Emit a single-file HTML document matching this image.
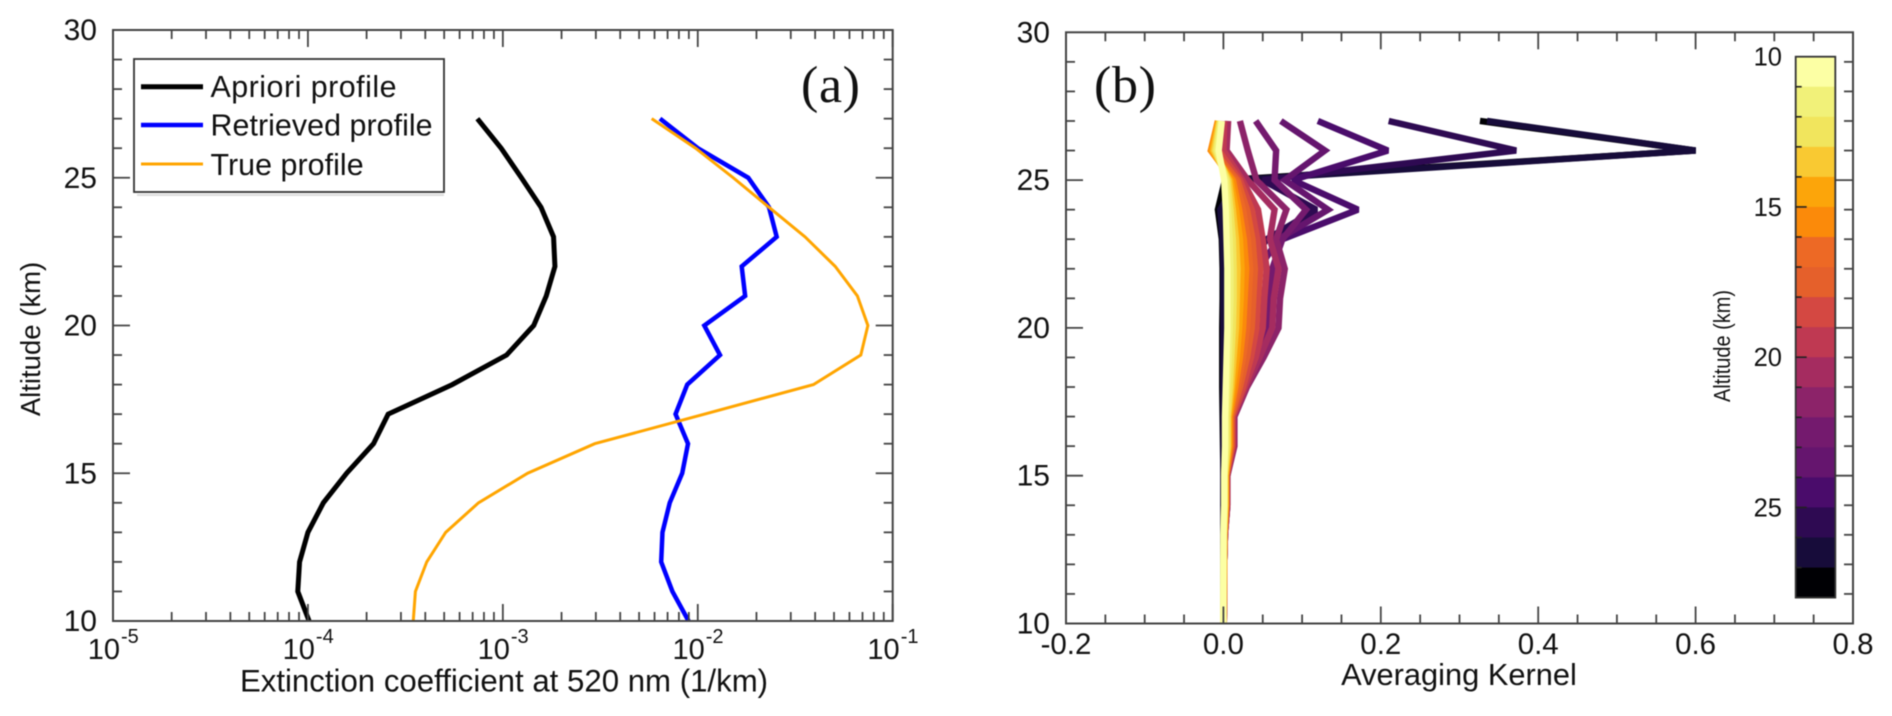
<!DOCTYPE html>
<html lang="en">
<head>
<meta charset="utf-8">
<title>Extinction profiles and averaging kernels</title>
<style>
html,body{margin:0;padding:0;background:#fff;width:1892px;height:716px;overflow:hidden}
svg{display:block;filter:blur(.4px)}
text{font-family:"Liberation Sans",sans-serif;fill:#111}
</style>
</head>
<body>
<svg id="fig" xmlns="http://www.w3.org/2000/svg" width="1892" height="716" viewBox="0 0 1892 716"></svg>
<script>
// Panel (a) data: altitude levels (km) and extinction coefficients (1/km)
const altitudes = [27,26,25,24,23,22,21,20,19,18,17,16,15,14,13,12,11,10];
const apriori = [7.40e-4,9.8e-4,1.245e-3,1.57e-3,1.82e-3,1.85e-3,1.67e-3,1.44e-3,1.045e-3,5.5e-4,2.58e-4,2.17e-4,1.58e-4,1.2e-4,1.0e-4,9.06e-5,8.87e-5,1.014e-4];
const retrieved = [6.4e-3,1.0e-2,1.815e-2,2.32e-2,2.54e-2,1.68e-2,1.75e-2,1.08e-2,1.3e-2,8.83e-3,7.69e-3,8.91e-3,8.32e-3,7.18e-3,6.59e-3,6.49e-3,7.41e-3,8.97e-3];
const trueProfile = [5.8e-3,9.75e-3,1.52e-2,2.32e-2,3.55e-2,5.07e-2,6.59e-2,7.46e-2,6.86e-2,3.92e-2,1.08e-2,2.96e-3,1.34e-3,7.5e-4,5.09e-4,4.07e-4,3.56e-4,3.47e-4];
const legendLabels = ["Apriori profile","Retrieved profile","True profile"];
const yTickLabels = [10,15,20,25,30];
const xExponents = [-5,-4,-3,-2,-1];
// Panel (b) data: averaging kernel per target altitude, values at altitudes[] levels
const kernel10 = [-.002,-.006,.001,.003,.004,.005,.005,.005,.004,.003,.002,.002,.001,.001,0,0,0,0];
const kernel11 = [-.003,-.008,.003,.006,.008,.009,.009,.008,.007,.005,.003,.003,.001,.001,.0005,0,0,0];
const kernel12 = [-.004,-.010,.005,.009,.012,.013,.013,.012,.010,.008,.005,.005,.002,.002,.0005,.0005,0,0];
const kernel13 = [-.005,-.012,.007,.012,.016,.018,.017,.016,.013,.010,.006,.006,.002,.002,.001,.0005,.0005,0];
const kernel14 = [-.006,-.014,.009,.016,.021,.023,.022,.020,.017,.012,.007,.007,.003,.003,.001,.0005,.0005,0];
const kernel15 = [-.007,-.016,.012,.020,.026,.029,.027,.025,.021,.015,.008,.008,.003,.003,.001,.001,.0005,0];
const kernel16 = [-.007,-.015,.015,.025,.031,.034,.032,.030,.025,.018,.009,.009,.003,.003,.001,.001,.0005,0];
const kernel17 = [-.006,-.012,.018,.030,.037,.040,.038,.036,.030,.021,.010,.010,.004,.004,.0015,.001,.001,.0005];
const kernel18 = [-.003,-.006,.021,.036,.043,.047,.044,.042,.035,.025,.011,.011,.004,.004,.0015,.001,.001,.0005];
const kernel19 = [.001,0,.024,.044,.050,.055,.052,.050,.041,.027,.012,.012,.004,.004,.002,.001,.001,.0005];
const kernel20 = [.006,.004,.031,.065,.059,.070,.064,.062,.046,.029,.013,.013,.005,.005,.002,.001,.001,.0005];
const kernel21 = [.021,.031,.042,.08,.067,.078,.072,.070,.051,.030,.014,.014,.005,.005,.002,.001,.001,.0005];
const kernel22 = [.041,.067,.065,.105,.075,.062,.058,.058,.042,.024,.012,.012,.005,.005,.002,.001,.001,.0005];
const kernel23 = [.073,.129,.078,.133,.07,.045,.045,.048,.035,.020,.011,.011,.004,.004,.002,.001,.001,.0005];
const kernel24 = [.12,.209,.088,.171,.075,.04,.033,.04,.03,.017,.009,.009,.004,.004,.002,.001,.001,.0005];
const kernel25 = [.21,.372,.05,.118,.055,.03,.03,.032,.024,.014,.007,.007,.003,.003,.001,.001,.0005,.0005];
const kernel26 = [.335,.6,.018,-.004,-.001,0,0,0,0,0,0,0,0,0,0,0,0,0];
const kernel27 = [.326,.6,.002,-.007,-.002,-.001,-.001,-.0015,-.0015,-.0015,-.001,-.0005,0,0,0,0,0,0];
const kernelTargets = [27,26,25,24,23,22,21,20,19,18,17,16,15,14,13,12,11,10];
const kernels = [kernel27,kernel26,kernel25,kernel24,kernel23,kernel22,kernel21,kernel20,kernel19,kernel18,kernel17,kernel16,kernel15,kernel14,kernel13,kernel12,kernel11,kernel10];
const kernelXTickLabels = ["-0.2","0.0","0.2","0.4","0.6","0.8"];
const colorbarTickLabels = [10,15,20,25];
const palette = ["#000004","#170c3a","#2e0a52","#4a0c6b","#65156e","#741a6e","#8c2369","#a52c60","#bf3952","#d44842","#e5602b","#ed6925","#fb8a0a","#fca50a","#f9c932","#f1e55d","#f1f179","#fcffa4"];

const NS = "http://www.w3.org/2000/svg";
const svg = document.getElementById("fig");
function make(tag, attrs, text) {
  const el = document.createElementNS(NS, tag);
  for (const k in attrs) el.setAttribute(k, attrs[k]);
  if (text !== undefined) el.textContent = text;
  svg.appendChild(el);
  return el;
}
function name(el, n, inter) {
  
  
  return el;
}
const AXIS = "#444";
function tick(x1, y1, x2, y2, n) {
  const el = make("line", {x1, y1, x2, y2, stroke: AXIS, "stroke-width": 1.8});
  
  
}
function label(x, y, s, size, anchor, n) {
  const el = make("text", {x, y, "font-size": size, "text-anchor": anchor}, s);
  
  
  return el;
}
function polyline(xs, ys, color, width, n, miter) {
  const pts = xs.map((x, i) => x.toFixed(2) + "," + ys[i].toFixed(2)).join(" ");
  const el = make("polyline", {points: pts, fill: "none", stroke: color, "stroke-width": width, "stroke-linejoin": "miter", "stroke-miterlimit": miter});
  
  
}

/* ---------- Panel (a) ---------- */
const aL = 113, aR = 892.7, aT = 30, aB = 621;
const xA = v => aL + (Math.log10(v) + 5) * (aR - aL) / 4;
const yA = km => aB - (km - 10) * (aB - aT) / 20;

// series
polyline(apriori.map(xA), altitudes.map(yA), "#000", 5, "apriori-profile-line", 6);
polyline(retrieved.map(xA), altitudes.map(yA), "#0000ff", 4.5, "retrieved-profile-line", 6);
polyline(trueProfile.map(xA), altitudes.map(yA), "#ffa500", 3, "true-profile-line", 6);

// frame
name(make("rect", {x: aL, y: aT, width: aR - aL, height: aB - aT, fill: "none", stroke: AXIS, "stroke-width": 2}), "panel-a-frame", false);

// y ticks
for (let km = 10; km <= 30; km++) {
  const major = km % 5 === 0, len = major ? 17 : 9;
  if (km > 10 && km < 30) {
    tick(aL, yA(km), aL + len, yA(km), "panel-a-y-tick");
    tick(aR, yA(km), aR - len, yA(km), "panel-a-y-tick-right");
  }
}
yTickLabels.forEach(v => label(97, yA(v) + 10, String(v), 30, "end", "panel-a-y-tick-label"));

// x ticks
xExponents.forEach(e => {
  const base = Math.pow(10, e);
  if (e > -5) {
    tick(xA(base), aB, xA(base), aB - 17, "panel-a-x-tick");
    tick(xA(base), aT, xA(base), aT + 17, "panel-a-x-tick-top");
  }
  if (e < -1) for (let m = 2; m < 10; m++) {
    tick(xA(base * m), aB, xA(base * m), aB - 9, "panel-a-x-minor-tick");
    tick(xA(base * m), aT, xA(base * m), aT + 9, "panel-a-x-minor-tick-top");
  }
  label(xA(base) + 7, 659, "10", 29, "end", "panel-a-x-tick-label");
  label(xA(base) + 8, 643, String(e), 20, "start", "panel-a-x-tick-exponent");
});
name(make("text", {x: 504, y: 691.5, "font-size": 31.2, "text-anchor": "middle"}, "Extinction coefficient at 520 nm (1/km)"), "panel-a-x-axis-title", false);
name(make("text", {transform: "translate(40,339) rotate(-90)", "font-size": 27.5, "text-anchor": "middle"}, "Altitude (km)"), "panel-a-y-axis-title", false);
name(make("text", {x: 801, y: 102, "font-size": 52, "text-anchor": "start", style: 'font-family:"Liberation Serif",serif', textLength: 59, lengthAdjust: "spacing"}, "(a)"), "panel-a-label", false);

// legend
name(make("rect", {x: 137, y: 194, width: 307, height: 2, fill: "#ddd"}), "legend-shadow", false);
name(make("rect", {x: 134, y: 59, width: 310, height: 133, fill: "#fff", stroke: "#333", "stroke-width": 1.8}), "legend-box", false);
const legendColors = ["#000", "#0000ff", "#ffa500"];
const legendWidths = [5, 4.5, 3];
const legendLineY = [86.7, 125, 164];
const legendTextY = [97, 135.7, 175];
const legendSpacing = [0.5, 0.05, 0.05];
legendLabels.forEach((s, i) => {
  const ln = make("line", {x1: 141, x2: 203, y1: legendLineY[i], y2: legendLineY[i], stroke: legendColors[i], "stroke-width": legendWidths[i]});
  
  
  label(210.5, legendTextY[i], s, 30.4, "start", "legend-entry").setAttribute("letter-spacing", legendSpacing[i]);
});

/* ---------- Panel (b) ---------- */
const bL = 1066, bR = 1853, bT = 32.3, bB = 623.5;
const xB = v => bL + (v + 0.2) * (bR - bL);
const yB = km => bB - (km - 10) * (bB - bT) / 20;

kernels.forEach((k, i) => {
  polyline(k.map(xB), altitudes.map(yB), palette[i], 6.4, "kernel-line-" + kernelTargets[i] + "km", 2);
});

name(make("rect", {x: bL, y: bT, width: bR - bL, height: bB - bT, fill: "none", stroke: AXIS, "stroke-width": 2}), "panel-b-frame", false);
for (let km = 11; km < 30; km++) {
  const len = km % 5 === 0 ? 17 : 9;
  tick(bL, yB(km), bL + len, yB(km), "panel-b-y-tick");
  tick(bR, yB(km), bR - len, yB(km), "panel-b-y-tick-right");
}
yTickLabels.forEach(v => label(1050, yB(v) + 10, String(v), 30, "end", "panel-b-y-tick-label"));
for (let i = 1; i < 20; i++) {
  const v = -0.2 + i * 0.05, len = i % 4 === 0 ? 17 : 9;
  tick(xB(v), bB, xB(v), bB - len, "panel-b-x-tick");
  tick(xB(v), bT, xB(v), bT + len, "panel-b-x-tick-top");
}
kernelXTickLabels.forEach(s => label(xB(parseFloat(s)), 654, s, 29.5, "middle", "panel-b-x-tick-label"));
name(make("text", {x: 1459, y: 685, "font-size": 30.8, "text-anchor": "middle"}, "Averaging Kernel"), "panel-b-x-axis-title", false);
name(make("text", {x: 1094, y: 102, "font-size": 52, "text-anchor": "start", style: 'font-family:"Liberation Serif",serif', textLength: 62, lengthAdjust: "spacing"}, "(b)"), "panel-b-label", false);

/* ---------- Colorbar ---------- */
const cL = 1795.7, cR = 1835.3, cT = 56.7, cStep = 30.05;
const yC = km => cT + (km - 10) * cStep;
for (let km = 10; km < 28; km++) {
  const seg = make("rect", {x: cL, y: yC(km), width: cR - cL, height: cStep + .4, fill: palette[17 - (km - 10)]});
  
  
}
name(make("rect", {x: cL, y: cT, width: cR - cL, height: yC(28) - cT, fill: "none", stroke: "#333", "stroke-width": 1.8}), "colorbar-frame", false);
for (let km = 11; km < 28; km++) {
  const len = km % 5 === 0 ? 11 : 6;
  const tk = make("line", {x1: cL, x2: cL + len, y1: yC(km), y2: yC(km), stroke: "#222", "stroke-width": 1.6});
  
  
}
colorbarTickLabels.forEach(v => label(1782, yC(v) + 9, String(v), 25.5, "end", "colorbar-tick-label"));
name(make("text", {transform: "translate(1730,346) rotate(-90)", "font-size": 23, "text-anchor": "middle", textLength: 112, lengthAdjust: "spacingAndGlyphs"}, "Altitude (km)"), "colorbar-title", false);
</script>
</body>
</html>
